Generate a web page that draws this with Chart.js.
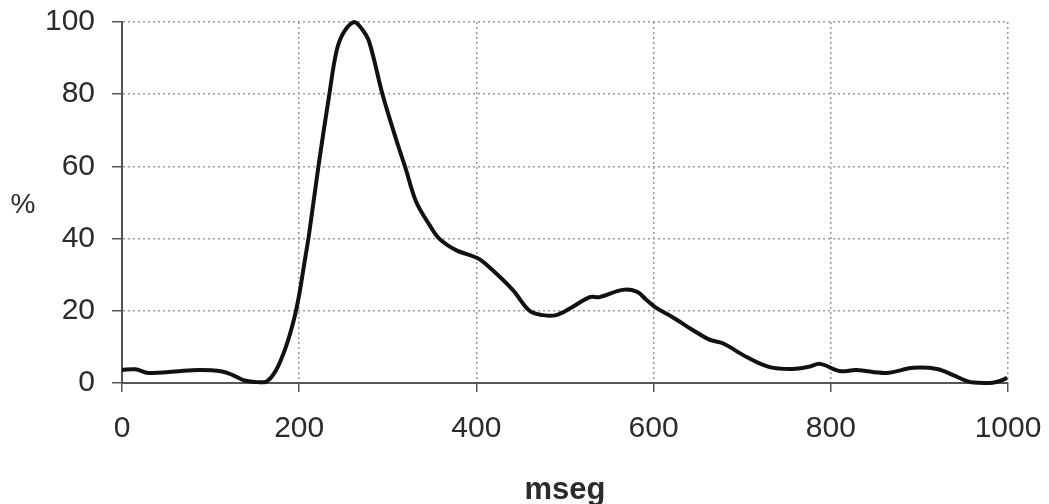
<!DOCTYPE html>
<html><head><meta charset="utf-8">
<script src="https://cdn.jsdelivr.net/npm/chart.js@4.4.1/dist/chart.umd.min.js"></script>
<style>html,body{margin:0;padding:0;background:#fff;overflow:hidden}</style>
</head><body>
<canvas id="c" width="1049" height="504"></canvas>
<script>
const timeMs = [0, 15, 30, 60, 87, 113, 125, 137, 150, 163, 174, 185, 194, 200, 206, 211, 222, 234, 242, 250, 262, 271, 279, 294, 309, 320, 332, 347, 358, 377, 401, 415, 441, 460, 475, 490, 508, 528, 539, 565, 581, 592, 603, 621, 644, 663, 678, 705, 731, 757, 775, 788, 810, 829, 863, 893, 920, 938, 957, 980, 990, 999];
const percent = [3.6, 3.8, 2.8, 3.2, 3.6, 3.2, 2.2, 0.8, 0.3, 0.4, 3.6, 10, 17.5, 24.5, 33.5, 41, 60.5, 80, 91.8, 97, 100, 98, 94.5, 80, 67.8, 59.5, 50.2, 43.8, 40, 36.8, 34.6, 32, 25.8, 20, 18.8, 18.8, 21, 23.8, 23.8, 25.8, 25.3, 23, 20.8, 18.3, 14.7, 12, 11, 7.2, 4.4, 3.9, 4.5, 5.3, 3.3, 3.6, 2.8, 4.2, 3.9, 2.2, 0.3, 0, 0.5, 1.4];
const xTicks = [0, 200, 400, 600, 800, 1000];
const yTicks = [0, 20, 40, 60, 80, 100];
const xTitle = 'mseg';
const yTitle = '%';

const FONT = '"Liberation Sans", Arial, sans-serif';
const TXT = '#2b2b2b';

const yLabelPlugin = {
  id: 'yLabel',
  afterDraw(chart) {
    const ctx = chart.ctx;
    const a = chart.chartArea;
    ctx.save();
    ctx.font = '28px ' + FONT;
    ctx.fillStyle = TXT;
    ctx.textAlign = 'center';
    ctx.textBaseline = 'middle';
    ctx.fillText(yTitle, 23, (a.top + a.bottom) / 2 + 3);
    ctx.restore();
  }
};

const points = timeMs.map((t, i) => ({ x: t, y: percent[i] }));

new Chart(document.getElementById('c'), {
  type: 'line',
  data: { datasets: [{
    data: points,
    borderColor: '#111',
    borderWidth: 4,
    pointRadius: 0,
    tension: 0.35,
    clip: 6
  }]},
  options: {
    responsive: false,
    animation: false,
    devicePixelRatio: 1,
    layout: { padding: { top: 22, right: 41, left: 0, bottom: 0 } },
    plugins: { legend: { display: false }, tooltip: { enabled: false } },
    scales: {
      x: {
        type: 'linear', min: 0, max: 1000,
        afterBuildTicks: s => { s.ticks = xTicks.map(v => ({ value: v })); },
        afterFit: s => { s.height = 121; },
        grid: { color: '#9a9a9a', lineWidth: 1.5, tickLength: 9, tickColor: '#555', tickWidth: 1.5 },
        border: { color: '#555', width: 2, dash: [2, 3] },
        ticks: { color: TXT, font: { family: FONT, size: 30, lineHeight: '74px' }, padding: 0, maxRotation: 0, callback: v => String(v) },
        title: { display: true, text: xTitle, color: TXT, font: { family: FONT, size: 31, weight: 'bold', lineHeight: 0.9 }, padding: { top: 0, bottom: 0 } }
      },
      y: {
        min: 0, max: 100,
        afterBuildTicks: s => { s.ticks = yTicks.map(v => ({ value: v })); },
        afterFit: s => { s.width = 122; },
        grid: { color: '#9a9a9a', lineWidth: 1.5, tickLength: 10, tickColor: '#555', tickWidth: 1.5 },
        border: { color: '#555', width: 2, dash: [2, 3] },
        ticks: { color: TXT, font: { family: FONT, size: 30, lineHeight: 0.2 }, padding: 17, callback: v => String(v) }
      }
    }
  },
  plugins: [yLabelPlugin]
});
</script>
</body></html>
